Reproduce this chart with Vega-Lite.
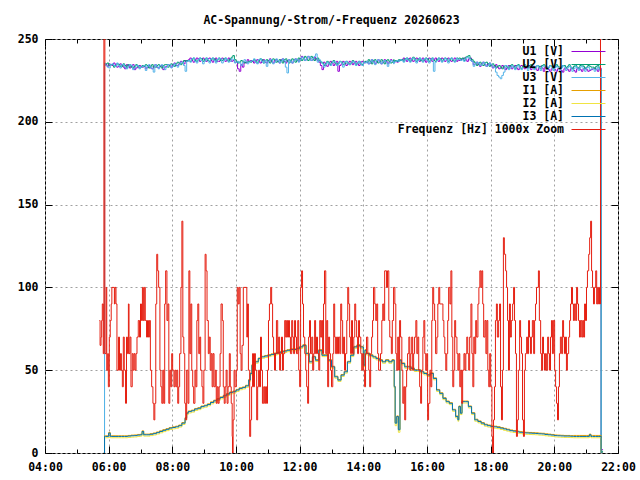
{
  "$schema": "https://vega.github.io/schema/vega-lite/v6.json",
  "width": 573,
  "height": 414,
  "autosize": {"type": "none"},
  "padding": {"left": 45, "top": 39, "right": 22, "bottom": 27},
  "background": "white",
  "title": {
    "text": "AC-Spannung/-Strom/-Frequenz 20260623",
    "font": "DejaVu Sans Mono", "fontSize": 11.5, "fontWeight": "bold",
    "color": "black", "anchor": "middle", "offset": 7
  },
  "data": {"values": [
    {"t":5.85,"U1":0,"U2":0,"U3":0,"I1":0,"I2":0,"I3":0},
    {"t":5.87,"U1":235,"U2":234.5,"U3":235.5,"I1":10.4,"I2":9.2,"I3":10},
    {"t":5.9,"U1":234.5,"U2":235,"U3":234,"I1":10.4,"I2":9.2,"I3":10},
    {"t":6.0,"U1":235,"U2":234,"U3":232.5,"I1":12.4,"I2":9.5,"I3":12},
    {"t":6.05,"U1":234.5,"U2":234.5,"U3":234.5,"I1":10.4,"I2":9.2,"I3":10},
    {"t":6.1,"U1":234,"U2":234.5,"U3":235,"I1":10.4,"I2":9.2,"I3":10},
    {"t":6.2,"U1":234.5,"U2":234,"U3":233.5,"I1":10.4,"I2":9.2,"I3":10},
    {"t":6.3,"U1":233.5,"U2":234.5,"U3":234,"I1":10.4,"I2":9.2,"I3":10},
    {"t":6.4,"U1":234,"U2":233.5,"U3":234.5,"I1":10.4,"I2":9.2,"I3":10},
    {"t":6.5,"U1":232,"U2":234,"U3":233,"I1":10.4,"I2":9.2,"I3":10},
    {"t":6.6,"U1":234,"U2":234.5,"U3":233.5,"I1":10.6,"I2":9.4,"I3":10.2},
    {"t":6.7,"U1":233.5,"U2":233,"U3":234,"I1":10.8,"I2":9.6,"I3":10.4},
    {"t":6.8,"U1":231.5,"U2":233.5,"U3":232.5,"I1":10.9,"I2":9.7,"I3":10.5},
    {"t":6.9,"U1":233,"U2":233.5,"U3":234,"I1":11.2,"I2":10,"I3":10.8},
    {"t":7.0,"U1":233.5,"U2":233,"U3":233,"I1":11.4,"I2":10.2,"I3":11},
    {"t":7.05,"U1":233,"U2":234,"U3":233.5,"I1":13.4,"I2":12.2,"I3":13},
    {"t":7.1,"U1":233.5,"U2":233.5,"U3":234,"I1":11.4,"I2":10.2,"I3":11},
    {"t":7.2,"U1":233,"U2":234,"U3":233.5,"I1":11.4,"I2":10.2,"I3":11},
    {"t":7.3,"U1":232.5,"U2":233.5,"U3":233,"I1":11.7,"I2":10.5,"I3":11.3},
    {"t":7.4,"U1":233.5,"U2":233,"U3":230,"I1":12.1,"I2":10.9,"I3":11.7},
    {"t":7.5,"U1":233,"U2":234,"U3":233.5,"I1":12.7,"I2":11.5,"I3":12.3},
    {"t":7.6,"U1":233.5,"U2":233.5,"U3":234,"I1":13.4,"I2":12.2,"I3":13},
    {"t":7.7,"U1":231.5,"U2":234,"U3":233.5,"I1":14.1,"I2":12.9,"I3":13.7},
    {"t":7.8,"U1":233.5,"U2":234.5,"U3":233,"I1":14.7,"I2":13.5,"I3":14.3},
    {"t":7.9,"U1":234,"U2":234,"U3":234.5,"I1":15.4,"I2":14.2,"I3":15},
    {"t":8.0,"U1":234.5,"U2":234.5,"U3":233.5,"I1":15.8,"I2":14.6,"I3":15.4},
    {"t":8.1,"U1":234,"U2":235,"U3":234.5,"I1":16.2,"I2":15,"I3":15.8},
    {"t":8.2,"U1":235,"U2":235.5,"U3":234.5,"I1":16.9,"I2":15.7,"I3":16.5},
    {"t":8.3,"U1":236,"U2":235.5,"U3":236,"I1":18.4,"I2":17.2,"I3":18},
    {"t":8.4,"U1":237,"U2":236.5,"U3":230.5,"I1":21.4,"I2":20.2,"I3":21},
    {"t":8.45,"U1":236.5,"U2":237,"U3":236.5,"I1":24.4,"I2":23.2,"I3":24},
    {"t":8.5,"U1":237.5,"U2":237,"U3":237,"I1":25.4,"I2":24.2,"I3":25},
    {"t":8.6,"U1":237,"U2":237.5,"U3":238,"I1":25.9,"I2":24.7,"I3":25.5},
    {"t":8.7,"U1":237.5,"U2":237,"U3":236.5,"I1":26.9,"I2":25.7,"I3":26.5},
    {"t":8.8,"U1":238,"U2":237.5,"U3":237.5,"I1":27.4,"I2":26.2,"I3":27},
    {"t":8.9,"U1":237,"U2":238,"U3":237,"I1":28.4,"I2":27.2,"I3":28},
    {"t":9.0,"U1":237.5,"U2":237.5,"U3":236.5,"I1":28.9,"I2":27.7,"I3":28.5},
    {"t":9.1,"U1":238,"U2":237,"U3":237.5,"I1":29.7,"I2":28.5,"I3":29.3},
    {"t":9.2,"U1":237,"U2":237.5,"U3":238,"I1":30.9,"I2":29.7,"I3":30.5},
    {"t":9.3,"U1":237.5,"U2":238,"U3":237,"I1":31.9,"I2":30.7,"I3":31.5},
    {"t":9.4,"U1":236.5,"U2":237.5,"U3":237.5,"I1":32.9,"I2":31.7,"I3":32.5},
    {"t":9.5,"U1":237.5,"U2":237,"U3":238,"I1":33.9,"I2":32.7,"I3":33.5},
    {"t":9.6,"U1":238,"U2":238,"U3":237,"I1":34.9,"I2":33.7,"I3":34.5},
    {"t":9.7,"U1":237,"U2":237.5,"U3":237.5,"I1":35.9,"I2":34.7,"I3":35.5},
    {"t":9.8,"U1":237.5,"U2":238,"U3":236.5,"I1":36.9,"I2":35.7,"I3":36.5},
    {"t":9.9,"U1":237,"U2":240,"U3":237.5,"I1":37.4,"I2":36.2,"I3":37},
    {"t":10.0,"U1":236,"U2":236.5,"U3":236,"I1":38.4,"I2":37.2,"I3":38},
    {"t":10.1,"U1":230.5,"U2":236,"U3":235.5,"I1":39.4,"I2":38.2,"I3":39},
    {"t":10.2,"U1":233,"U2":236.5,"U3":236,"I1":39.9,"I2":38.7,"I3":39.5},
    {"t":10.3,"U1":235.5,"U2":236,"U3":236.5,"I1":40.9,"I2":39.7,"I3":40.5},
    {"t":10.4,"U1":236.5,"U2":236.5,"U3":236,"I1":44.4,"I2":43.2,"I3":44},
    {"t":10.45,"U1":237,"U2":236,"U3":236.5,"I1":48.4,"I2":47.2,"I3":48},
    {"t":10.5,"U1":236.5,"U2":237,"U3":237,"I1":53.4,"I2":52.2,"I3":53},
    {"t":10.6,"U1":237,"U2":236.5,"U3":236,"I1":55.4,"I2":54.2,"I3":55},
    {"t":10.7,"U1":236.5,"U2":237,"U3":237.5,"I1":57.4,"I2":56.2,"I3":57},
    {"t":10.8,"U1":237,"U2":237.5,"U3":236.5,"I1":58.4,"I2":57.2,"I3":58},
    {"t":10.9,"U1":236,"U2":237,"U3":237,"I1":58.9,"I2":57.7,"I3":58.5},
    {"t":11.0,"U1":237,"U2":236.5,"U3":236.5,"I1":59.4,"I2":58.2,"I3":59},
    {"t":11.1,"U1":236.5,"U2":237,"U3":237.5,"I1":59.9,"I2":58.7,"I3":59.5},
    {"t":11.2,"U1":237,"U2":237.5,"U3":236,"I1":60.4,"I2":59.2,"I3":60},
    {"t":11.3,"U1":236.5,"U2":236.5,"U3":237,"I1":60.9,"I2":59.7,"I3":60.5},
    {"t":11.4,"U1":237.5,"U2":237,"U3":236.5,"I1":61.4,"I2":60.2,"I3":61},
    {"t":11.5,"U1":236.5,"U2":237.5,"U3":237,"I1":61.9,"I2":60.7,"I3":61.5},
    {"t":11.6,"U1":237,"U2":236.5,"U3":229.5,"I1":62.4,"I2":61.2,"I3":62},
    {"t":11.7,"U1":236.5,"U2":237,"U3":236.5,"I1":62.9,"I2":61.7,"I3":62.5},
    {"t":11.8,"U1":237,"U2":237.5,"U3":237,"I1":62.9,"I2":61.7,"I3":62.5},
    {"t":11.9,"U1":237.5,"U2":237,"U3":237.5,"I1":63.4,"I2":62.2,"I3":63},
    {"t":12.0,"U1":238,"U2":238,"U3":237.5,"I1":64.4,"I2":63.2,"I3":64},
    {"t":12.1,"U1":238.5,"U2":238,"U3":238.5,"I1":65.4,"I2":64.2,"I3":65},
    {"t":12.2,"U1":238,"U2":238.5,"U3":238,"I1":60.4,"I2":59.2,"I3":60},
    {"t":12.3,"U1":238.5,"U2":238,"U3":239,"I1":55.4,"I2":54.2,"I3":55},
    {"t":12.4,"U1":237.5,"U2":238.5,"U3":238,"I1":58.4,"I2":57.2,"I3":58},
    {"t":12.5,"U1":238,"U2":238,"U3":241,"I1":56.4,"I2":55.2,"I3":56},
    {"t":12.6,"U1":236,"U2":237,"U3":237.5,"I1":62.4,"I2":61.2,"I3":62},
    {"t":12.7,"U1":231.5,"U2":235.5,"U3":235,"I1":59.4,"I2":58.2,"I3":59},
    {"t":12.8,"U1":234,"U2":235,"U3":234.5,"I1":59.4,"I2":58.2,"I3":59},
    {"t":12.9,"U1":235,"U2":235.5,"U3":235,"I1":56.4,"I2":55.2,"I3":56},
    {"t":13.0,"U1":235.5,"U2":236,"U3":235.5,"I1":52.4,"I2":51.2,"I3":52},
    {"t":13.1,"U1":235,"U2":235.5,"U3":236,"I1":46.4,"I2":45.2,"I3":46},
    {"t":13.2,"U1":230.5,"U2":235.5,"U3":235,"I1":44.4,"I2":43.2,"I3":44},
    {"t":13.3,"U1":235,"U2":236,"U3":235.5,"I1":47.4,"I2":46.2,"I3":47},
    {"t":13.4,"U1":235.5,"U2":235,"U3":236,"I1":49.4,"I2":48.2,"I3":49},
    {"t":13.5,"U1":235,"U2":235.5,"U3":235,"I1":55.4,"I2":54.2,"I3":55},
    {"t":13.6,"U1":236,"U2":235.5,"U3":235.5,"I1":59.4,"I2":58.2,"I3":59},
    {"t":13.7,"U1":235.5,"U2":236,"U3":236,"I1":64.4,"I2":63.2,"I3":64},
    {"t":13.8,"U1":235,"U2":235.5,"U3":235.5,"I1":65.4,"I2":64.2,"I3":65},
    {"t":13.9,"U1":236,"U2":235,"U3":235,"I1":64.4,"I2":63.2,"I3":64},
    {"t":14.0,"U1":235.5,"U2":236,"U3":236,"I1":53.4,"I2":52.2,"I3":53},
    {"t":14.05,"U1":236,"U2":236.5,"U3":235.5,"I1":62.4,"I2":61.2,"I3":62},
    {"t":14.1,"U1":236.5,"U2":236,"U3":236.5,"I1":60.4,"I2":59.2,"I3":60},
    {"t":14.2,"U1":235.5,"U2":236.5,"U3":236,"I1":59.4,"I2":58.2,"I3":59},
    {"t":14.3,"U1":236.5,"U2":237,"U3":236,"I1":58.4,"I2":57.2,"I3":58},
    {"t":14.4,"U1":236,"U2":236.5,"U3":237,"I1":57.4,"I2":56.2,"I3":57},
    {"t":14.5,"U1":236.5,"U2":236,"U3":236,"I1":56.4,"I2":55.2,"I3":56},
    {"t":14.6,"U1":236,"U2":236.5,"U3":236.5,"I1":55.4,"I2":54.2,"I3":55},
    {"t":14.7,"U1":236.5,"U2":237,"U3":236,"I1":56.4,"I2":55.2,"I3":56},
    {"t":14.8,"U1":236,"U2":236.5,"U3":235.5,"I1":55.4,"I2":54.2,"I3":55},
    {"t":14.9,"U1":236.5,"U2":236,"U3":236.5,"I1":56.4,"I2":55.2,"I3":56},
    {"t":14.97,"U1":236,"U2":236.5,"U3":236,"I1":40.4,"I2":39.2,"I3":40},
    {"t":15.0,"U1":236.5,"U2":237,"U3":236.5,"I1":18.4,"I2":16.5,"I3":18},
    {"t":15.05,"U1":236,"U2":236.5,"U3":237,"I1":22.4,"I2":20.5,"I3":22},
    {"t":15.1,"U1":237,"U2":237.5,"U3":236.5,"I1":14.4,"I2":12.5,"I3":14},
    {"t":15.15,"U1":237.5,"U2":237,"U3":237.5,"I1":56.4,"I2":55.2,"I3":56},
    {"t":15.2,"U1":237,"U2":237.5,"U3":237,"I1":54.4,"I2":53.2,"I3":54},
    {"t":15.3,"U1":237.5,"U2":238,"U3":237.5,"I1":52.4,"I2":51.2,"I3":52},
    {"t":15.4,"U1":238,"U2":237.5,"U3":237,"I1":52.4,"I2":51.2,"I3":52},
    {"t":15.5,"U1":237,"U2":237.5,"U3":238,"I1":51.4,"I2":50.2,"I3":51},
    {"t":15.6,"U1":237.5,"U2":238,"U3":237.5,"I1":50.4,"I2":49.2,"I3":50},
    {"t":15.7,"U1":238,"U2":237.5,"U3":237,"I1":50.4,"I2":49.2,"I3":50},
    {"t":15.8,"U1":237.5,"U2":237,"U3":237.5,"I1":49.4,"I2":48.2,"I3":49},
    {"t":15.9,"U1":237,"U2":237.5,"U3":238,"I1":48.4,"I2":47.2,"I3":48},
    {"t":16.0,"U1":237.5,"U2":238,"U3":237,"I1":47.4,"I2":46.2,"I3":47},
    {"t":16.1,"U1":238,"U2":237.5,"U3":237.5,"I1":48.4,"I2":47.2,"I3":48},
    {"t":16.2,"U1":237.5,"U2":237,"U3":230.5,"I1":45.4,"I2":44.2,"I3":45},
    {"t":16.3,"U1":237,"U2":237.5,"U3":237,"I1":38.4,"I2":37.2,"I3":38},
    {"t":16.4,"U1":237.5,"U2":238,"U3":237.5,"I1":36.4,"I2":35.2,"I3":36},
    {"t":16.5,"U1":238,"U2":237.5,"U3":237,"I1":33.4,"I2":32.2,"I3":33},
    {"t":16.6,"U1":237.5,"U2":238,"U3":237.5,"I1":31.4,"I2":30.2,"I3":31},
    {"t":16.7,"U1":237,"U2":237.5,"U3":238,"I1":30.4,"I2":29.2,"I3":30},
    {"t":16.8,"U1":237.5,"U2":237,"U3":237.5,"I1":26.4,"I2":25.2,"I3":26},
    {"t":16.9,"U1":238,"U2":237.5,"U3":237,"I1":22.4,"I2":21.2,"I3":22},
    {"t":16.97,"U1":237.5,"U2":238,"U3":237.5,"I1":20.4,"I2":19.2,"I3":20},
    {"t":17.0,"U1":237,"U2":238.5,"U3":237.5,"I1":28.4,"I2":27.2,"I3":28},
    {"t":17.05,"U1":237.5,"U2":238,"U3":237,"I1":24.4,"I2":23.2,"I3":24},
    {"t":17.1,"U1":238,"U2":238.5,"U3":237.5,"I1":31.4,"I2":30.2,"I3":31},
    {"t":17.2,"U1":237.5,"U2":239,"U3":238,"I1":31.4,"I2":30.2,"I3":31},
    {"t":17.3,"U1":238,"U2":240,"U3":238.5,"I1":28.4,"I2":27.2,"I3":28},
    {"t":17.4,"U1":236.5,"U2":237.5,"U3":236.5,"I1":24.4,"I2":23.2,"I3":24},
    {"t":17.5,"U1":235,"U2":235.5,"U3":235,"I1":20.4,"I2":19.2,"I3":20},
    {"t":17.6,"U1":234.5,"U2":235,"U3":235.5,"I1":19.4,"I2":18.2,"I3":19},
    {"t":17.7,"U1":235,"U2":234.5,"U3":234.5,"I1":18.4,"I2":17.2,"I3":18},
    {"t":17.8,"U1":234.5,"U2":235.5,"U3":235,"I1":17.4,"I2":16.2,"I3":17},
    {"t":17.9,"U1":235,"U2":235,"U3":234,"I1":16.9,"I2":15.7,"I3":16.5},
    {"t":18.0,"U1":234,"U2":234.5,"U3":234.5,"I1":16.4,"I2":15.2,"I3":16},
    {"t":18.1,"U1":233.5,"U2":234,"U3":233,"I1":16.2,"I2":15,"I3":15.8},
    {"t":18.2,"U1":233,"U2":233.5,"U3":228,"I1":15.9,"I2":14.7,"I3":15.5},
    {"t":18.3,"U1":232.5,"U2":233,"U3":226,"I1":15.4,"I2":14.2,"I3":15},
    {"t":18.4,"U1":233,"U2":233.5,"U3":230,"I1":14.9,"I2":13.7,"I3":14.5},
    {"t":18.5,"U1":232.5,"U2":233,"U3":233.5,"I1":14.4,"I2":13.2,"I3":14},
    {"t":18.6,"U1":233.5,"U2":234,"U3":232.5,"I1":13.9,"I2":12.7,"I3":13.5},
    {"t":18.7,"U1":233,"U2":233.5,"U3":233,"I1":13.6,"I2":12.4,"I3":13.2},
    {"t":18.8,"U1":232.5,"U2":234,"U3":233.5,"I1":13.2,"I2":12,"I3":12.8},
    {"t":18.9,"U1":233.5,"U2":233,"U3":232.5,"I1":12.9,"I2":11.7,"I3":12.5},
    {"t":19.0,"U1":233,"U2":233.5,"U3":233,"I1":12.6,"I2":11.4,"I3":12.2},
    {"t":19.1,"U1":232.5,"U2":233,"U3":233.5,"I1":12.5,"I2":11.3,"I3":12.1},
    {"t":19.2,"U1":233,"U2":234,"U3":232.5,"I1":12.4,"I2":11.2,"I3":12},
    {"t":19.3,"U1":233.5,"U2":233.5,"U3":233,"I1":12.3,"I2":11.1,"I3":11.9},
    {"t":19.4,"U1":232,"U2":233,"U3":233.5,"I1":12.2,"I2":11,"I3":11.8},
    {"t":19.5,"U1":233,"U2":233.5,"U3":232.5,"I1":12,"I2":10.8,"I3":11.6},
    {"t":19.6,"U1":232.5,"U2":234,"U3":233,"I1":11.9,"I2":10.7,"I3":11.5},
    {"t":19.7,"U1":233,"U2":233.5,"U3":233.5,"I1":11.6,"I2":10.4,"I3":11.2},
    {"t":19.8,"U1":231.5,"U2":233,"U3":232.5,"I1":11.4,"I2":10.2,"I3":11},
    {"t":19.9,"U1":232,"U2":233.5,"U3":233,"I1":11.2,"I2":10,"I3":10.8},
    {"t":20.0,"U1":231.5,"U2":233,"U3":232.5,"I1":10.9,"I2":9.7,"I3":10.5},
    {"t":20.1,"U1":232,"U2":233.5,"U3":233,"I1":10.8,"I2":9.6,"I3":10.4},
    {"t":20.2,"U1":231,"U2":233,"U3":232.5,"I1":10.7,"I2":9.5,"I3":10.3},
    {"t":20.3,"U1":232,"U2":234,"U3":233,"I1":10.6,"I2":9.4,"I3":10.2},
    {"t":20.4,"U1":231.5,"U2":233.5,"U3":232.5,"I1":10.6,"I2":9.4,"I3":10.2},
    {"t":20.5,"U1":232,"U2":233,"U3":233,"I1":10.5,"I2":9.3,"I3":10.1},
    {"t":20.6,"U1":231,"U2":233.5,"U3":232,"I1":10.6,"I2":9.2,"I3":10},
    {"t":20.7,"U1":232,"U2":233,"U3":232.5,"I1":10.6,"I2":9.2,"I3":10},
    {"t":20.8,"U1":231.5,"U2":234,"U3":233,"I1":10.6,"I2":9.2,"I3":10},
    {"t":20.9,"U1":232,"U2":233.5,"U3":232,"I1":10.6,"I2":9.2,"I3":10},
    {"t":21.0,"U1":231.5,"U2":233,"U3":232.5,"I1":10.6,"I2":9.2,"I3":10},
    {"t":21.1,"U1":231,"U2":233.5,"U3":231.5,"I1":11.4,"I2":10,"I3":11},
    {"t":21.15,"U1":231.5,"U2":233,"U3":232,"I1":10.6,"I2":9.2,"I3":10},
    {"t":21.2,"U1":232,"U2":233,"U3":232,"I1":10.6,"I2":9.2,"I3":10},
    {"t":21.3,"U1":231.5,"U2":233.5,"U3":231.5,"I1":10.6,"I2":9.2,"I3":10},
    {"t":21.4,"U1":232,"U2":232.5,"U3":232,"I1":10.6,"I2":9.2,"I3":10},
    {"t":21.47,"U1":2,"U2":1,"U3":0,"I1":0,"I2":0,"I3":0},
    {"t":21.53,"U1":2,"U2":1,"U3":0,"I1":0,"I2":0,"I3":0},
    {"t":5.95,"U1":233.5,"U2":235.5,"U3":233},{"t":6.15,"U1":235.5,"U2":233,"U3":234},{"t":6.25,"U1":233,"U2":235,"U3":235.5},
    {"t":6.35,"U1":235,"U2":233.5,"U3":232.5},{"t":6.45,"U1":233,"U2":235,"U3":234.5},{"t":6.55,"U1":234.5,"U2":232.5,"U3":232},
    {"t":6.65,"U1":232.5,"U2":234.5,"U3":234.5},{"t":6.75,"U1":234.5,"U2":232.5,"U3":231.5},{"t":6.85,"U1":232.5,"U2":234.5,"U3":234},
    {"t":6.95,"U1":234,"U2":232.5,"U3":232},{"t":7.15,"U1":232,"U2":234.5,"U3":231},{"t":7.25,"U1":234,"U2":232.5,"U3":234.5},
    {"t":7.35,"U1":232,"U2":234.5,"U3":232},{"t":7.45,"U1":234.5,"U2":233,"U3":234.5},{"t":7.55,"U1":232.5,"U2":234.5,"U3":232},
    {"t":7.65,"U1":234,"U2":232.5,"U3":234.5},{"t":7.75,"U1":233,"U2":234.5,"U3":231.5},{"t":7.85,"U1":234.5,"U2":233,"U3":234.5},
    {"t":7.95,"U1":233,"U2":235,"U3":232.5},{"t":8.05,"U1":235.5,"U2":233.5,"U3":235},{"t":8.15,"U1":234,"U2":236,"U3":233},
    {"t":8.25,"U1":236.5,"U2":234.5,"U3":236},{"t":8.35,"U1":235,"U2":237,"U3":234},{"t":8.55,"U1":238.5,"U2":236.5,"U3":236},
    {"t":8.65,"U1":236,"U2":238.5,"U3":238.5},{"t":8.75,"U1":238.5,"U2":236.5,"U3":235.5},{"t":8.85,"U1":236.5,"U2":238.5,"U3":238.5},
    {"t":8.95,"U1":238.5,"U2":236.5,"U3":235},{"t":9.05,"U1":236.5,"U2":238.5,"U3":238.5},{"t":9.15,"U1":238.5,"U2":236.5,"U3":235.5},
    {"t":9.25,"U1":236,"U2":238.5,"U3":238.5},{"t":9.35,"U1":238.5,"U2":236.5,"U3":235.5},{"t":9.45,"U1":236.5,"U2":238.5,"U3":238.5},
    {"t":9.55,"U1":238.5,"U2":237,"U3":235.5},{"t":9.65,"U1":236.5,"U2":238.5,"U3":238.5},{"t":9.75,"U1":238.5,"U2":236.5,"U3":236},
    {"t":9.85,"U1":236.5,"U2":239,"U3":238},{"t":9.95,"U1":236,"U2":237.5,"U3":235.5},{"t":10.05,"U1":232,"U2":235.5,"U3":236.5},
    {"t":10.15,"U1":234.5,"U2":237,"U3":234},{"t":10.25,"U1":236,"U2":235.5,"U3":237.5},{"t":10.35,"U1":237.5,"U2":236,"U3":235},
    {"t":10.55,"U1":235.5,"U2":237.5,"U3":238},{"t":10.65,"U1":237.5,"U2":235.5,"U3":235},{"t":10.75,"U1":235.5,"U2":238,"U3":238},
    {"t":10.85,"U1":237.5,"U2":235.5,"U3":235.5},{"t":10.95,"U1":235.5,"U2":237.5,"U3":233.5},{"t":11.05,"U1":238,"U2":235.5,"U3":237.5},
    {"t":11.15,"U1":235.5,"U2":238,"U3":235},{"t":11.25,"U1":237.5,"U2":236,"U3":238},{"t":11.35,"U1":235.5,"U2":237.5,"U3":235.5},
    {"t":11.45,"U1":238,"U2":235.5,"U3":238},{"t":11.55,"U1":235.5,"U2":238,"U3":233},{"t":11.65,"U1":237.5,"U2":235.5,"U3":237.5},
    {"t":11.75,"U1":235.5,"U2":238,"U3":235.5},{"t":11.85,"U1":238,"U2":236,"U3":238},{"t":11.95,"U1":236.5,"U2":238.5,"U3":236},
    {"t":12.05,"U1":239.5,"U2":237,"U3":239},{"t":12.15,"U1":237,"U2":239.5,"U3":237},{"t":12.25,"U1":239.5,"U2":237,"U3":239.5},
    {"t":12.35,"U1":237,"U2":239.5,"U3":237},{"t":12.45,"U1":239,"U2":237,"U3":239.5},{"t":12.55,"U1":237,"U2":238.5,"U3":236},
    {"t":12.65,"U1":234,"U2":236,"U3":236.5},{"t":12.75,"U1":236,"U2":234,"U3":233},{"t":12.85,"U1":233.5,"U2":236.5,"U3":236},
    {"t":12.95,"U1":236.5,"U2":234.5,"U3":234},{"t":13.05,"U1":234,"U2":237,"U3":236.5},{"t":13.15,"U1":236.5,"U2":234.5,"U3":234},
    {"t":13.25,"U1":234,"U2":236.5,"U3":236.5},{"t":13.35,"U1":236.5,"U2":234.5,"U3":233},{"t":13.45,"U1":234,"U2":236.5,"U3":236.5},
    {"t":13.55,"U1":236.5,"U2":234.5,"U3":234.5},{"t":13.65,"U1":234.5,"U2":237,"U3":236.5},{"t":13.75,"U1":236.5,"U2":234.5,"U3":234},
    {"t":13.85,"U1":234,"U2":236.5,"U3":236.5},{"t":13.95,"U1":236.5,"U2":234.5,"U3":234},{"t":14.15,"U1":235,"U2":237.5,"U3":235},
    {"t":14.25,"U1":237.5,"U2":235,"U3":237.5},{"t":14.35,"U1":235,"U2":237.5,"U3":234.5},{"t":14.45,"U1":237.5,"U2":235.5,"U3":237.5},
    {"t":14.55,"U1":235,"U2":237.5,"U3":235},{"t":14.65,"U1":237.5,"U2":235,"U3":237},{"t":14.75,"U1":235,"U2":237.5,"U3":233.5},
    {"t":14.85,"U1":237.5,"U2":235.5,"U3":237},{"t":14.95,"U1":235.5,"U2":237.5,"U3":235},{"t":15.25,"U1":238.5,"U2":236.5,"U3":236},
    {"t":15.35,"U1":236.5,"U2":238.5,"U3":238.5},{"t":15.45,"U1":238.5,"U2":236.5,"U3":236},{"t":15.55,"U1":236.5,"U2":239,"U3":238.5},
    {"t":15.65,"U1":238.5,"U2":236.5,"U3":235.5},{"t":15.75,"U1":236.5,"U2":238.5,"U3":238.5},{"t":15.85,"U1":238.5,"U2":236.5,"U3":236},
    {"t":15.95,"U1":236,"U2":238.5,"U3":238.5},{"t":16.05,"U1":238.5,"U2":236.5,"U3":235.5},{"t":16.15,"U1":236.5,"U2":238.5,"U3":238.5},
    {"t":16.25,"U1":238.5,"U2":236.5,"U3":236},{"t":16.35,"U1":236.5,"U2":238.5,"U3":238.5},{"t":16.45,"U1":238.5,"U2":236.5,"U3":236},
    {"t":16.55,"U1":236.5,"U2":238.5,"U3":238.5},{"t":16.65,"U1":238.5,"U2":236.5,"U3":235.5},{"t":16.75,"U1":236.5,"U2":238.5,"U3":238.5},
    {"t":16.85,"U1":238.5,"U2":236.5,"U3":236},{"t":16.93,"U1":236.5,"U2":238.5,"U3":238.5},{"t":17.15,"U1":238.5,"U2":237,"U3":236.5},
    {"t":17.25,"U1":236.5,"U2":239.5,"U3":239},{"t":17.35,"U1":238.5,"U2":238,"U3":237},{"t":17.45,"U1":234.5,"U2":236.5,"U3":233.5},
    {"t":17.55,"U1":236,"U2":234,"U3":236},{"t":17.65,"U1":233.5,"U2":236,"U3":234},{"t":17.75,"U1":236,"U2":234,"U3":236},
    {"t":17.85,"U1":233.5,"U2":236,"U3":233.5},{"t":17.95,"U1":235.5,"U2":233.5,"U3":235.5},{"t":18.05,"U1":232.5,"U2":235,"U3":233},
    {"t":18.15,"U1":234.5,"U2":232.5,"U3":230},{"t":18.25,"U1":232,"U2":234,"U3":227},{"t":18.35,"U1":234,"U2":232,"U3":228},
    {"t":18.45,"U1":231.5,"U2":234,"U3":234},{"t":18.55,"U1":234,"U2":232,"U3":231.5},{"t":18.65,"U1":232,"U2":234.5,"U3":234},
    {"t":18.75,"U1":234,"U2":232,"U3":231.5},{"t":18.85,"U1":231.5,"U2":234.5,"U3":234},{"t":18.95,"U1":234,"U2":232,"U3":231.5},
    {"t":19.05,"U1":232,"U2":234.5,"U3":234},{"t":19.15,"U1":234,"U2":232.5,"U3":231},{"t":19.25,"U1":231.5,"U2":234.5,"U3":234},
    {"t":19.35,"U1":233.5,"U2":232,"U3":231.5},{"t":19.45,"U1":231,"U2":234,"U3":234},{"t":19.55,"U1":233.5,"U2":232,"U3":231},
    {"t":19.65,"U1":230.5,"U2":234.5,"U3":234},{"t":19.75,"U1":233,"U2":232,"U3":231.5},{"t":19.85,"U1":230.5,"U2":234,"U3":234},
    {"t":19.95,"U1":232.5,"U2":232,"U3":231},{"t":20.05,"U1":230.5,"U2":234.5,"U3":233.5},{"t":20.15,"U1":232.5,"U2":232,"U3":231},
    {"t":20.25,"U1":230,"U2":234,"U3":234},{"t":20.35,"U1":232.5,"U2":232.5,"U3":231},{"t":20.45,"U1":230.5,"U2":234.5,"U3":233.5},
    {"t":20.55,"U1":232.5,"U2":232,"U3":230.5},{"t":20.65,"U1":230,"U2":234.5,"U3":233.5},{"t":20.75,"U1":232.5,"U2":232,"U3":231},
    {"t":20.85,"U1":230.5,"U2":234.5,"U3":233.5},{"t":20.95,"U1":232.5,"U2":232,"U3":230.5},{"t":21.05,"U1":230.5,"U2":234,"U3":233},
    {"t":21.25,"U1":232.5,"U2":232,"U3":230.5},{"t":21.35,"U1":230.5,"U2":234,"U3":233},{"t":21.43,"U1":232.5,"U2":231.5,"U3":231},
    {"t":5.71,"F":80},{"t":5.73,"F":65},{"t":5.76,"F":70},{"t":5.78,"F":80},{"t":5.80,"F":90},{"t":5.83,"F":60},{"t":5.85,"F":1000},{"t":5.88,"F":60},
    {"t":5.92,"F":100},{"t":5.94,"F":50},{"t":5.97,"F":60},{"t":5.99,"F":40},{"t":6.02,"F":70},{"t":6.05,"F":80},{"t":6.08,"F":90},{"t":6.10,"F":100},
    {"t":6.18,"F":90},{"t":6.20,"F":100},{"t":6.23,"F":90},{"t":6.26,"F":50},{"t":6.31,"F":70},{"t":6.34,"F":50},{"t":6.37,"F":60},{"t":6.40,"F":50},
    {"t":6.43,"F":40},{"t":6.46,"F":70},{"t":6.49,"F":50},{"t":6.53,"F":30},{"t":6.56,"F":70},{"t":6.59,"F":60},{"t":6.62,"F":90},{"t":6.64,"F":60},
    {"t":6.67,"F":70},{"t":6.70,"F":40},{"t":6.74,"F":60},{"t":6.77,"F":50},{"t":6.80,"F":60},{"t":6.83,"F":50},{"t":6.86,"F":60},{"t":6.89,"F":70},
    {"t":6.93,"F":80},{"t":6.97,"F":70},{"t":7.00,"F":90},{"t":7.03,"F":80},{"t":7.06,"F":100},{"t":7.09,"F":80},{"t":7.12,"F":100},{"t":7.15,"F":80},
    {"t":7.19,"F":70},{"t":7.22,"F":80},{"t":7.25,"F":70},{"t":7.28,"F":80},{"t":7.31,"F":50},{"t":7.35,"F":40},{"t":7.39,"F":30},{"t":7.42,"F":20},
    {"t":7.45,"F":30},{"t":7.48,"F":90},{"t":7.51,"F":120},{"t":7.54,"F":110},{"t":7.57,"F":100},{"t":7.61,"F":50},{"t":7.64,"F":40},{"t":7.67,"F":30},
    {"t":7.70,"F":50},{"t":7.73,"F":30},{"t":7.76,"F":90},{"t":7.79,"F":110},{"t":7.83,"F":80},{"t":7.86,"F":90},{"t":7.89,"F":30},{"t":7.92,"F":50},
    {"t":7.95,"F":40},{"t":7.98,"F":60},{"t":8.01,"F":50},{"t":8.05,"F":40},{"t":8.08,"F":50},{"t":8.11,"F":40},{"t":8.14,"F":50},{"t":8.17,"F":30},
    {"t":8.20,"F":40},{"t":8.23,"F":60},{"t":8.27,"F":100},{"t":8.30,"F":140},{"t":8.33,"F":70},{"t":8.36,"F":60},{"t":8.39,"F":30},{"t":8.42,"F":20},
    {"t":8.45,"F":50},{"t":8.49,"F":30},{"t":8.52,"F":110},{"t":8.55,"F":60},{"t":8.58,"F":90},{"t":8.61,"F":50},{"t":8.64,"F":40},{"t":8.67,"F":30},
    {"t":8.71,"F":50},{"t":8.74,"F":40},{"t":8.77,"F":80},{"t":8.80,"F":90},{"t":8.83,"F":60},{"t":8.86,"F":70},{"t":8.89,"F":50},{"t":8.93,"F":40},
    {"t":8.96,"F":30},{"t":8.99,"F":50},{"t":9.03,"F":120},{"t":9.06,"F":110},{"t":9.09,"F":80},{"t":9.13,"F":60},{"t":9.16,"F":70},{"t":9.19,"F":50},
    {"t":9.22,"F":60},{"t":9.25,"F":40},{"t":9.28,"F":60},{"t":9.31,"F":40},{"t":9.35,"F":50},{"t":9.38,"F":30},{"t":9.41,"F":40},{"t":9.44,"F":30},
    {"t":9.47,"F":40},{"t":9.50,"F":60},{"t":9.53,"F":90},{"t":9.57,"F":80},{"t":9.60,"F":40},{"t":9.63,"F":30},{"t":9.66,"F":40},{"t":9.69,"F":50},
    {"t":9.72,"F":30},{"t":9.75,"F":40},{"t":9.79,"F":60},{"t":9.82,"F":40},{"t":9.85,"F":30},{"t":9.88,"F":10},{"t":9.89,"F":0},{"t":9.91,"F":20},
    {"t":9.94,"F":50},{"t":9.97,"F":40},{"t":10.01,"F":50},{"t":10.04,"F":100},{"t":10.07,"F":90},{"t":10.10,"F":100},{"t":10.13,"F":60},{"t":10.16,"F":50},
    {"t":10.19,"F":65},{"t":10.23,"F":100},{"t":10.34,"F":70},{"t":10.36,"F":90},{"t":10.39,"F":50},{"t":10.43,"F":10},{"t":10.46,"F":20},{"t":10.49,"F":40},
    {"t":10.52,"F":60},{"t":10.55,"F":40},{"t":10.58,"F":60},{"t":10.61,"F":50},{"t":10.65,"F":20},{"t":10.68,"F":40},{"t":10.71,"F":50},{"t":10.74,"F":40},
    {"t":10.77,"F":70},{"t":10.80,"F":50},{"t":10.83,"F":30},{"t":10.87,"F":40},{"t":10.90,"F":30},{"t":10.93,"F":40},{"t":10.96,"F":30},{"t":10.99,"F":50},
    {"t":11.02,"F":80},{"t":11.05,"F":90},{"t":11.09,"F":100},{"t":11.12,"F":90},{"t":11.15,"F":70},{"t":11.18,"F":60},{"t":11.21,"F":50},{"t":11.24,"F":60},
    {"t":11.27,"F":80},{"t":11.31,"F":60},{"t":11.34,"F":70},{"t":11.37,"F":50},{"t":11.40,"F":60},{"t":11.43,"F":70},{"t":11.46,"F":50},{"t":11.49,"F":60},
    {"t":11.53,"F":80},{"t":11.56,"F":70},{"t":11.59,"F":80},{"t":11.62,"F":70},{"t":11.65,"F":80},{"t":11.68,"F":70},{"t":11.71,"F":60},{"t":11.75,"F":80},
    {"t":11.78,"F":70},{"t":11.81,"F":60},{"t":11.84,"F":80},{"t":11.87,"F":70},{"t":11.90,"F":60},{"t":11.94,"F":80},{"t":11.97,"F":50},{"t":12.00,"F":40},
    {"t":12.03,"F":100},{"t":12.06,"F":110},{"t":12.09,"F":90},{"t":12.12,"F":70},{"t":12.16,"F":60},{"t":12.19,"F":50},{"t":12.22,"F":40},{"t":12.25,"F":30},
    {"t":12.28,"F":70},{"t":12.31,"F":80},{"t":12.34,"F":60},{"t":12.38,"F":70},{"t":12.41,"F":50},{"t":12.44,"F":60},{"t":12.47,"F":80},{"t":12.50,"F":60},
    {"t":12.53,"F":70},{"t":12.56,"F":60},{"t":12.60,"F":50},{"t":12.63,"F":80},{"t":12.66,"F":70},{"t":12.69,"F":80},{"t":12.72,"F":60},{"t":12.75,"F":90},
    {"t":12.78,"F":110},{"t":12.82,"F":60},{"t":12.85,"F":80},{"t":12.88,"F":40},{"t":12.91,"F":70},{"t":12.94,"F":60},{"t":12.97,"F":50},{"t":13.00,"F":40},
    {"t":13.04,"F":60},{"t":13.07,"F":90},{"t":13.10,"F":70},{"t":13.13,"F":60},{"t":13.16,"F":70},{"t":13.19,"F":60},{"t":13.22,"F":70},{"t":13.26,"F":60},
    {"t":13.29,"F":90},{"t":13.32,"F":80},{"t":13.35,"F":60},{"t":13.38,"F":70},{"t":13.41,"F":50},{"t":13.44,"F":60},{"t":13.48,"F":80},{"t":13.51,"F":100},
    {"t":13.54,"F":90},{"t":13.57,"F":70},{"t":13.60,"F":60},{"t":13.63,"F":80},{"t":13.66,"F":60},{"t":13.70,"F":70},{"t":13.73,"F":90},{"t":13.76,"F":80},
    {"t":13.79,"F":70},{"t":13.82,"F":60},{"t":13.85,"F":80},{"t":13.88,"F":70},{"t":13.92,"F":60},{"t":13.95,"F":50},{"t":13.98,"F":60},{"t":14.01,"F":50},
    {"t":14.04,"F":40},{"t":14.07,"F":60},{"t":14.10,"F":70},{"t":14.14,"F":60},{"t":14.17,"F":50},{"t":14.20,"F":40},{"t":14.23,"F":60},{"t":14.26,"F":70},
    {"t":14.29,"F":80},{"t":14.32,"F":100},{"t":14.36,"F":90},{"t":14.39,"F":80},{"t":14.42,"F":90},{"t":14.45,"F":60},{"t":14.48,"F":50},{"t":14.54,"F":60},
    {"t":14.58,"F":80},{"t":14.61,"F":90},{"t":14.64,"F":80},{"t":14.67,"F":110},{"t":14.73,"F":100},{"t":14.76,"F":110},{"t":14.80,"F":80},{"t":14.83,"F":70},
    {"t":14.88,"F":60},{"t":14.91,"F":80},{"t":14.95,"F":100},{"t":14.99,"F":90},{"t":15.02,"F":60},{"t":15.05,"F":50},{"t":15.08,"F":70},{"t":15.11,"F":50},
    {"t":15.14,"F":80},{"t":15.17,"F":70},{"t":15.21,"F":50},{"t":15.24,"F":30},{"t":15.27,"F":40},{"t":15.30,"F":20},{"t":15.33,"F":40},{"t":15.36,"F":50},
    {"t":15.39,"F":60},{"t":15.43,"F":70},{"t":15.46,"F":50},{"t":15.49,"F":60},{"t":15.52,"F":70},{"t":15.55,"F":50},{"t":15.58,"F":60},{"t":15.61,"F":70},
    {"t":15.65,"F":80},{"t":15.68,"F":60},{"t":15.71,"F":70},{"t":15.74,"F":50},{"t":15.77,"F":40},{"t":15.80,"F":30},{"t":15.83,"F":50},{"t":15.87,"F":70},
    {"t":15.90,"F":80},{"t":15.93,"F":60},{"t":15.96,"F":50},{"t":15.99,"F":60},{"t":16.02,"F":20},{"t":16.05,"F":30},{"t":16.09,"F":50},{"t":16.12,"F":40},
    {"t":16.15,"F":80},{"t":16.18,"F":100},{"t":16.21,"F":90},{"t":16.24,"F":80},{"t":16.27,"F":60},{"t":16.31,"F":70},{"t":16.34,"F":90},{"t":16.37,"F":100},
    {"t":16.40,"F":90},{"t":16.50,"F":80},{"t":16.53,"F":70},{"t":16.56,"F":60},{"t":16.59,"F":50},{"t":16.62,"F":60},{"t":16.65,"F":80},{"t":16.68,"F":100},
    {"t":16.72,"F":90},{"t":16.75,"F":110},{"t":16.78,"F":70},{"t":16.81,"F":40},{"t":16.84,"F":50},{"t":16.87,"F":80},{"t":16.90,"F":70},{"t":16.94,"F":60},
    {"t":16.97,"F":50},{"t":17.00,"F":60},{"t":17.03,"F":40},{"t":17.06,"F":50},{"t":17.09,"F":30},{"t":17.12,"F":50},{"t":17.16,"F":60},{"t":17.19,"F":50},
    {"t":17.22,"F":60},{"t":17.25,"F":70},{"t":17.28,"F":60},{"t":17.31,"F":50},{"t":17.34,"F":70},{"t":17.38,"F":90},{"t":17.41,"F":60},{"t":17.44,"F":40},
    {"t":17.47,"F":70},{"t":17.50,"F":60},{"t":17.53,"F":80},{"t":17.56,"F":70},{"t":17.60,"F":90},{"t":17.63,"F":100},{"t":17.66,"F":110},{"t":17.69,"F":100},
    {"t":17.72,"F":110},{"t":17.75,"F":90},{"t":17.78,"F":70},{"t":17.82,"F":80},{"t":17.85,"F":60},{"t":17.88,"F":80},{"t":17.91,"F":50},{"t":17.94,"F":40},
    {"t":17.97,"F":60},{"t":18.00,"F":40},{"t":18.04,"F":10},{"t":18.06,"F":0},{"t":18.09,"F":20},{"t":18.12,"F":40},{"t":18.15,"F":80},{"t":18.18,"F":90},
    {"t":18.21,"F":70},{"t":18.25,"F":80},{"t":18.28,"F":90},{"t":18.31,"F":40},{"t":18.34,"F":20},{"t":18.37,"F":50},{"t":18.40,"F":130},{"t":18.43,"F":120},
    {"t":18.47,"F":110},{"t":18.50,"F":100},{"t":18.53,"F":80},{"t":18.56,"F":50},{"t":18.59,"F":90},{"t":18.62,"F":70},{"t":18.65,"F":80},{"t":18.69,"F":90},
    {"t":18.72,"F":100},{"t":18.75,"F":80},{"t":18.78,"F":60},{"t":18.81,"F":10},{"t":18.84,"F":20},{"t":18.87,"F":50},{"t":18.91,"F":80},{"t":18.94,"F":70},
    {"t":18.97,"F":60},{"t":19.00,"F":20},{"t":19.03,"F":10},{"t":19.06,"F":50},{"t":19.09,"F":60},{"t":19.13,"F":70},{"t":19.16,"F":60},{"t":19.19,"F":80},
    {"t":19.22,"F":70},{"t":19.25,"F":60},{"t":19.28,"F":70},{"t":19.31,"F":80},{"t":19.35,"F":60},{"t":19.38,"F":80},{"t":19.41,"F":90},{"t":19.44,"F":100},
    {"t":19.50,"F":110},{"t":19.53,"F":80},{"t":19.57,"F":60},{"t":19.60,"F":50},{"t":19.63,"F":70},{"t":19.66,"F":60},{"t":19.69,"F":50},{"t":19.72,"F":60},
    {"t":19.75,"F":50},{"t":19.79,"F":70},{"t":19.82,"F":60},{"t":19.85,"F":50},{"t":19.88,"F":70},{"t":19.91,"F":80},{"t":19.94,"F":60},{"t":19.97,"F":80},
    {"t":20.01,"F":50},{"t":20.04,"F":40},{"t":20.07,"F":30},{"t":20.10,"F":20},{"t":20.13,"F":40},{"t":20.16,"F":60},{"t":20.19,"F":70},{"t":20.23,"F":60},
    {"t":20.26,"F":80},{"t":20.29,"F":70},{"t":20.32,"F":60},{"t":20.35,"F":70},{"t":20.38,"F":50},{"t":20.41,"F":60},{"t":20.45,"F":70},{"t":20.48,"F":80},
    {"t":20.51,"F":90},{"t":20.54,"F":100},{"t":20.57,"F":90},{"t":20.60,"F":80},{"t":20.63,"F":90},{"t":20.67,"F":80},{"t":20.70,"F":100},{"t":20.73,"F":90},
    {"t":20.76,"F":80},{"t":20.79,"F":70},{"t":20.82,"F":80},{"t":20.86,"F":70},{"t":20.89,"F":80},{"t":20.92,"F":70},{"t":20.95,"F":90},{"t":20.98,"F":80},
    {"t":21.01,"F":100},{"t":21.04,"F":110},{"t":21.08,"F":120},{"t":21.11,"F":130},{"t":21.14,"F":140},{"t":21.17,"F":110},{"t":21.20,"F":100},{"t":21.23,"F":90},
    {"t":21.26,"F":100},{"t":21.30,"F":110},{"t":21.33,"F":90},{"t":21.36,"F":100},{"t":21.39,"F":90},{"t":21.42,"F":100},{"t":21.44,"F":90},{"t":21.45,"F":1000}
  ]},
  "transform": [
    {"fold": ["U1", "U2", "U3", "I1", "I2", "I3", "F"], "as": ["s", "v"]},
    {"filter": "isValid(datum.v)"}
  ],
  "layer": [
    {
      "mark": {"type": "line", "interpolate": "step-after", "strokeWidth": 1, "clip": true},
      "encoding": {
        "x": {"field": "t", "type": "quantitative",
          "scale": {"domain": [4, 22], "nice": false, "zero": false},
          "axis": {"orient": "bottom", "values": [4, 6, 8, 10, 12, 14, 16, 18, 20, 22],
            "labelExpr": "(datum.value < 10 ? '0' : '') + datum.value + ':00'",
            "tickSize": -7, "labelPadding": 15, "grid": true, "labelFlush": false, "title": null}},
        "y": {"field": "v", "type": "quantitative",
          "scale": {"domain": [0, 250], "nice": false},
          "axis": {"orient": "left", "values": [0, 50, 100, 150, 200, 250],
            "tickSize": -7, "labelPadding": 14, "grid": true, "labelFlush": false, "title": null}},
        "color": {"field": "s", "type": "nominal",
          "scale": {"domain": ["U1", "U2", "U3", "I1", "I2", "I3", "F"],
            "range": ["#9400d3", "#009e73", "#56b4e9", "#e69f00", "#f0e442", "#0072b2", "#e51e10"]},
          "legend": {
            "orient": "none", "legendX": 537, "legendY": 6, "title": null, "padding": 0,
            "symbolType": "M-3,0H3", "symbolSize": 128, "symbolStrokeWidth": 1,
            "labelAlign": "right", "labelOffset": -31, "labelLimit": 300, "rowPadding": 1,
            "labelFont": "DejaVu Sans Mono", "labelFontSize": 11.5, "labelFontWeight": "bold", "labelColor": "black",
            "labelExpr": "datum.label == 'F' ? 'Frequenz [Hz] 1000x Zoom' : datum.label + (indexof(datum.label, 'U') == 0 ? ' [V]' : ' [A]')",
            "encode": {"symbols": {"update": {
              "stroke": {"scale": "color", "field": "value"},
              "fill": {"value": "transparent"},
              "strokeWidth": {"value": 1}
            }}}
          }}
      }
    },
    {
      "mark": {"type": "point", "opacity": 0, "size": 1, "clip": true},
      "encoding": {
        "x": {"field": "t", "type": "quantitative",
          "scale": {"domain": [4, 22], "nice": false, "zero": false},
          "axis": {"orient": "top", "values": [4, 6, 8, 10, 12, 14, 16, 18, 20, 22],
            "labels": false, "tickSize": -7, "grid": false, "title": null}},
        "y": {"field": "v", "type": "quantitative",
          "scale": {"domain": [0, 250], "nice": false},
          "axis": {"orient": "right", "values": [0, 50, 100, 150, 200, 250],
            "labels": false, "tickSize": -7, "grid": false, "title": null}}
      }
    },
    {
      "mark": {"type": "point", "opacity": 0, "size": 1, "clip": true},
      "encoding": {
        "x": {"field": "t", "type": "quantitative",
          "scale": {"domain": [4, 22], "nice": false, "zero": false},
          "axis": {"orient": "bottom", "values": [5, 7, 9, 11, 13, 15, 17, 19, 21],
            "labels": false, "tickSize": -4, "grid": false, "title": null}}
      }
    },
    {
      "mark": {"type": "point", "opacity": 0, "size": 1, "clip": true},
      "encoding": {
        "x": {"field": "t", "type": "quantitative",
          "scale": {"domain": [4, 22], "nice": false, "zero": false},
          "axis": {"orient": "top", "values": [5, 7, 9, 11, 13, 15, 17, 19, 21],
            "labels": false, "tickSize": -4, "grid": false, "title": null}}
      }
    }
  ],
  "resolve": {"axis": {"x": "independent", "y": "independent"}},
  "config": {
    "view": {"stroke": "black", "strokeWidth": 1},
    "axis": {
      "domain": false,
      "labelFont": "DejaVu Sans Mono", "labelFontSize": 11.5, "labelFontWeight": "bold", "labelColor": "black",
      "tickColor": "black", "tickWidth": 1,
      "gridColor": "#a0a0a0", "gridDash": [2, 3], "gridOpacity": 1, "gridWidth": 1
    }
  }
}
